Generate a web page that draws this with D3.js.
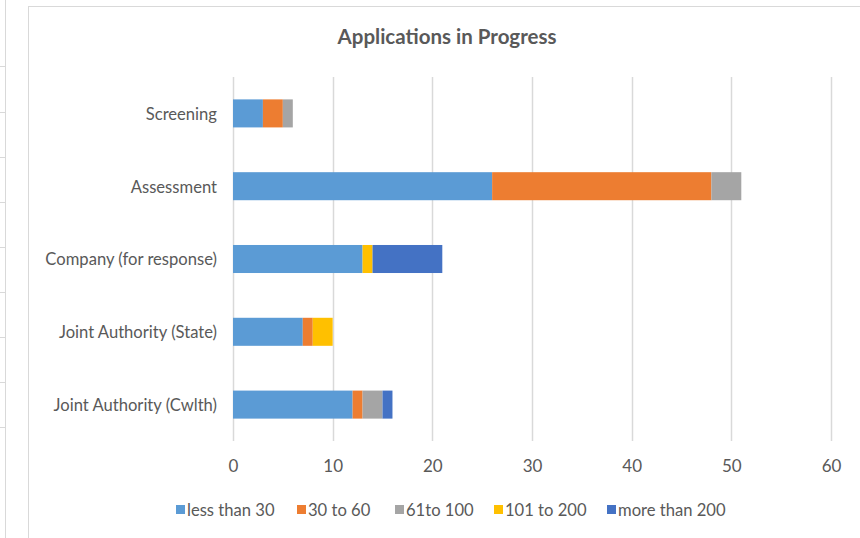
<!DOCTYPE html>
<html>
<head>
<meta charset="utf-8">
<script src="https://cdn.jsdelivr.net/npm/d3@7"></script>
<style>
  body { margin: 0; background: #fff; }
  svg text { font-family: Lato, 'Open Sans', sans-serif; fill: #595959; }
</style>
</head>
<body>
<div id="chart"></div>
<script>
// data
const categories = ['Screening', 'Assessment', 'Company (for response)', 'Joint Authority (State)', 'Joint Authority (Cwlth)'];
const seriesNames = ['less than 30', '30 to 60', '61to 100', '101 to 200', 'more than 200'];
const lessThan30 = [3, 26, 13, 7, 12];
const from30to60 = [2, 22, 0, 1, 1];
const from61to100 = [1, 3, 0, 0, 2];
const from101to200 = [0, 0, 1, 2, 0];
const moreThan200 = [0, 0, 7, 0, 1];
const xTicks = [0, 10, 20, 30, 40, 50, 60];
const colors = ['#5b9bd5', '#ed7d31', '#a5a5a5', '#ffc000', '#4472c4'];

const width = 860;
const height = 538;
const font = "Lato, 'Open Sans', sans-serif";

const svg = d3.select('#chart')
  .append('svg')
  .attr('width', width)
  .attr('height', height);

// leftover frame of a neighbouring element on the far left
svg.append('line')
  .attr('x1', 5.5).attr('x2', 5.5).attr('y1', 0).attr('y2', height)
  .attr('stroke', '#d9d9d9');
[66, 112, 157, 202, 247, 292, 337, 382, 427].forEach((y) => {
  svg.append('line')
    .attr('x1', 0).attr('x2', 5).attr('y1', y + 0.5).attr('y2', y + 0.5)
    .attr('stroke', '#d9d9d9');
});

// chart area border
svg.append('rect')
  .attr('x', 28.5).attr('y', 6.5)
  .attr('width', 900).attr('height', 600)
  .attr('fill', 'white')
  .attr('stroke', '#d9d9d9');

svg.append('text')
  .attr('x', 447)
  .attr('y', 44)
  .attr('text-anchor', 'middle')
  .attr('font-size', 20.5)
  .attr('font-weight', 'bold')
  .text('Applications in Progress');

// stacked table
const table = categories.map((c, i) => ({
  category: c,
  'less than 30': lessThan30[i],
  '30 to 60': from30to60[i],
  '61to 100': from61to100[i],
  '101 to 200': from101to200[i],
  'more than 200': moreThan200[i],
}));
const stacked = d3.stack().keys(seriesNames)(table);

const x = d3.scaleLinear().domain([0, 60]).range([233, 831]);
const y = d3.scaleBand()
  .domain(categories)
  .range([77, 441])
  .paddingInner(0.615)
  .paddingOuter(0.3075);
const color = d3.scaleOrdinal().domain(seriesNames).range(colors);

// gridlines
svg.append('g')
  .selectAll('line')
  .data(xTicks)
  .join('line')
  .attr('x1', (d) => Math.round(x(d)) + 0.5)
  .attr('x2', (d) => Math.round(x(d)) + 0.5)
  .attr('y1', 77)
  .attr('y2', 441)
  .attr('stroke', '#d9d9d9')
  .attr('stroke-width', 1.5);

// bars
svg.append('g')
  .selectAll('g')
  .data(stacked)
  .join('g')
  .attr('fill', (d) => color(d.key))
  .selectAll('rect')
  .data((d) => d)
  .join('rect')
  .attr('x', (d) => x(d[0]))
  .attr('y', (d) => y(d.data.category))
  .attr('width', (d) => x(d[1]) - x(d[0]))
  .attr('height', y.bandwidth());

// x tick labels
const xAxis = svg.append('g')
  .attr('transform', 'translate(0,441)')
  .call(d3.axisBottom(x).tickValues(xTicks).tickSize(0).tickPadding(19));
xAxis.select('.domain').remove();
xAxis.selectAll('text')
  .attr('font-size', 17)
  .style('font-family', font)
  .attr('fill', '#595959');

// category labels
const yAxis = svg.append('g')
  .attr('transform', 'translate(233,0)')
  .call(d3.axisLeft(y).tickSize(0).tickPadding(16));
yAxis.select('.domain').remove();
yAxis.selectAll('text')
  .attr('font-size', 16.6)
  .attr('dy', '0.38em')
  .style('font-family', font)
  .attr('fill', '#595959');

// legend
const legendX = [176, 297, 395, 494, 607];
const legend = svg.append('g')
  .selectAll('g')
  .data(seriesNames)
  .join('g')
  .attr('transform', (d, i) => `translate(${legendX[i]},510)`);
legend.append('rect')
  .attr('x', 0).attr('y', -5)
  .attr('width', 9).attr('height', 9)
  .attr('fill', (d) => color(d));
legend.append('text')
  .attr('x', 11)
  .attr('y', 0)
  .attr('dy', '0.36em')
  .attr('font-size', 16.6)
  .text((d) => d);
</script>
</body>
</html>
